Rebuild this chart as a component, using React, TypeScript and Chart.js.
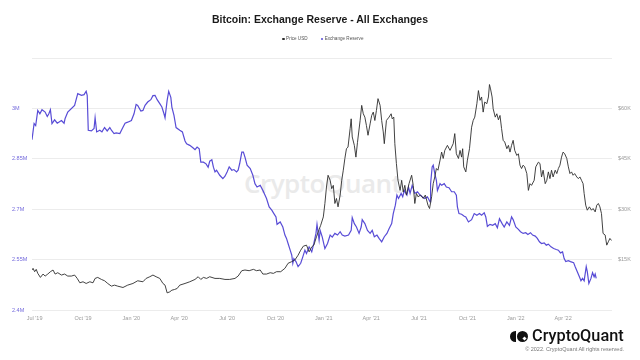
import React, { useEffect, useRef } from "react";
import { Chart, registerables } from "chart.js";

Chart.register(...registerables);

// x values are days counted from 1 Jul 2019
const tickDays = [0, 92, 184, 275, 366, 458, 550, 640, 731, 823, 915, 1005];
const tickLabels = ["Jul '19", "Oct '19", "Jan '20", "Apr '20", "Jul '20", "Oct '20", "Jan '21", "Apr '21", "Jul '21", "Oct '21", "Jan '22", "Apr '22"];

const reserveDays = [-5,-1,2,6,10,14,20,24,27,30,33,38,43,51,56,58,63,76,82,89,94,98,100,102,108,113,115,118,124,128,133,138,143,146,151,155,162,168,172,177,184,189,193,196,202,206,210,215,221,225,229,233,238,242,246,248,252,255,259,261,265,269,276,281,286,289,295,301,305,309,313,316,321,326,330,333,337,340,343,346,352,358,362,366,370,375,379,384,387,390,394,397,400,404,410,415,419,423,429,434,438,441,446,451,455,459,461,467,472,476,479,482,486,489,491,493,497,501,506,510,514,517,522,527,531,535,537,541,543,547,552,557,562,566,571,576,581,585,590,597,602,604,608,612,617,621,623,628,633,638,642,646,651,655,660,665,670,674,679,682,686,689,692,697,700,703,708,711,714,718,723,728,733,737,742,747,752,753,756,758,761,764,766,771,774,779,783,788,793,798,802,804,807,812,817,820,825,831,836,841,846,850,855,858,861,866,871,876,880,884,889,893,898,903,907,910,915,920,924,929,934,938,943,947,952,956,960,964,969,973,977,982,987,992,996,1000,1004,1007,1010,1015,1019,1025,1028,1032,1036,1039,1042,1045,1049,1051,1054,1058,1061,1064,1066,1068];
// Exchange reserve, millions of BTC
const reserveM = [2.907,2.955,2.949,2.994,2.984,2.996,2.989,2.976,2.984,2.996,2.955,2.966,2.956,2.964,2.956,2.970,2.989,3.009,3.044,3.039,3.041,3.051,3.039,2.935,2.933,2.940,2.972,2.930,2.935,2.930,2.943,2.933,2.943,2.935,2.925,2.927,2.925,2.944,2.956,2.959,2.964,2.984,3.012,3.009,2.992,2.994,3.009,3.019,3.026,3.038,3.039,3.026,3.014,3.004,2.984,2.972,3.024,3.051,3.033,3.004,2.979,2.943,2.935,2.930,2.903,2.895,2.890,2.883,2.877,2.885,2.880,2.840,2.840,2.835,2.825,2.843,2.847,2.825,2.811,2.816,2.801,2.791,2.798,2.811,2.826,2.816,2.818,2.811,2.816,2.836,2.870,2.870,2.855,2.831,2.821,2.801,2.776,2.766,2.771,2.756,2.742,2.732,2.707,2.697,2.687,2.677,2.655,2.662,2.647,2.623,2.613,2.598,2.578,2.563,2.539,2.553,2.544,2.529,2.539,2.558,2.578,2.568,2.588,2.573,2.598,2.628,2.655,2.608,2.637,2.617,2.583,2.598,2.623,2.617,2.628,2.623,2.633,2.623,2.620,2.623,2.637,2.675,2.657,2.647,2.628,2.647,2.669,2.657,2.637,2.628,2.637,2.618,2.623,2.613,2.603,2.618,2.628,2.642,2.657,2.687,2.712,2.742,2.732,2.747,2.737,2.756,2.742,2.766,2.747,2.771,2.747,2.752,2.742,2.737,2.732,2.737,2.722,2.776,2.826,2.831,2.806,2.786,2.756,2.776,2.771,2.776,2.766,2.764,2.752,2.752,2.742,2.707,2.687,2.685,2.679,2.677,2.662,2.669,2.687,2.682,2.687,2.682,2.689,2.677,2.649,2.655,2.652,2.657,2.645,2.672,2.657,2.647,2.662,2.652,2.677,2.669,2.647,2.640,2.633,2.628,2.630,2.625,2.630,2.623,2.620,2.613,2.603,2.598,2.600,2.593,2.596,2.588,2.583,2.580,2.578,2.570,2.573,2.553,2.544,2.547,2.544,2.541,2.529,2.514,2.499,2.487,2.494,2.487,2.529,2.514,2.479,2.494,2.511,2.499,2.507,2.494];

const priceDays = [-5,-3,0,3,6,11,16,20,25,30,35,39,44,51,57,63,70,76,81,86,92,98,105,111,115,120,127,133,139,146,152,158,168,177,187,196,206,212,219,225,231,238,244,248,252,257,261,266,271,276,286,295,305,311,316,321,327,333,343,352,362,371,381,387,394,400,408,416,422,429,434,441,448,454,460,468,476,482,489,495,501,506,511,517,522,527,531,536,541,544,549,552,555,558,562,565,568,571,574,577,581,584,587,590,593,596,600,602,604,608,611,614,619,622,625,628,631,634,638,641,644,647,650,653,657,660,663,665,669,674,678,680,683,685,688,691,695,698,701,704,707,712,717,720,723,726,729,734,739,743,748,751,755,758,761,764,767,771,774,777,780,785,790,793,796,799,802,806,809,812,814,816,820,823,827,831,834,837,841,844,847,850,853,856,860,863,865,867,870,872,876,879,882,885,888,891,894,898,901,904,907,910,913,917,920,923,926,929,932,936,939,942,945,950,953,958,961,964,967,971,974,977,980,983,986,990,993,996,999,1002,1005,1008,1012,1015,1018,1021,1024,1027,1031,1034,1037,1040,1043,1045,1048,1051,1055,1059,1062,1066,1069,1072,1075,1078,1081,1085,1088,1091,1094,1097];
// BTC price, thousands of USD
const priceUsdK = [11.9,12.4,11.4,12.1,10.9,9.7,10.7,10.1,10.7,11.4,11.9,10.7,11.1,10.4,10.7,10.1,10.1,10.4,9.4,8.1,8.4,7.9,8.4,8.1,9.4,9.7,9.1,8.7,7.9,7.1,7.4,7.1,6.7,7.4,7.9,8.7,8.4,9.4,9.9,10.4,9.9,9.4,7.9,7.4,5.1,5.4,5.9,6.1,6.4,7.4,7.9,8.4,9.1,9.9,9.1,9.7,9.4,9.9,9.4,9.4,9.1,9.1,9.4,10.1,11.7,11.9,11.7,12.1,11.7,11.9,10.7,10.7,11.1,10.9,11.4,11.4,12.4,13.9,14.4,14.9,16.3,17.8,19.0,19.3,17.3,18.8,19.3,21.8,24.0,25.2,27.7,31.7,36.6,40.1,38.6,36.1,37.1,31.7,33.2,30.7,34.2,38.6,41.6,45.1,48.0,48.5,54.0,56.9,51.5,49.0,45.5,49.9,56.4,60.9,58.4,57.4,54.9,52.0,55.4,57.9,58.9,56.4,59.4,62.9,60.9,56.4,53.0,49.5,56.4,57.4,58.4,56.9,57.4,49.5,43.6,38.6,35.6,38.6,35.1,37.1,34.2,37.6,40.1,37.1,31.7,34.7,33.7,34.2,33.2,34.2,31.2,30.2,33.7,37.6,39.6,42.1,41.6,44.6,47.0,45.1,47.5,49.0,47.5,48.5,49.5,52.5,46.5,45.1,47.5,45.5,48.0,42.6,41.1,44.6,48.0,54.4,56.4,57.4,61.4,65.3,62.4,63.4,58.9,61.9,61.4,63.4,67.1,65.8,63.4,59.9,57.4,58.4,56.6,57.9,54.0,50.5,50.0,48.0,49.0,47.0,49.0,50.5,47.5,46.0,46.5,43.1,42.1,43.1,42.6,40.6,35.6,37.6,37.1,38.6,42.6,44.0,43.6,39.6,41.6,37.6,38.6,41.1,39.1,41.6,39.6,41.6,40.6,42.1,43.1,45.5,47.0,46.5,45.1,42.6,40.6,41.1,40.1,40.6,39.6,39.1,39.6,38.6,37.6,34.7,31.2,29.7,30.7,29.7,30.2,29.2,31.2,31.7,30.7,28.7,22.8,22.3,19.3,20.3,21.3,20.7];

const FONT = "'Liberation Sans', Arial, Helvetica, sans-serif";
const PURPLE = "#584cd6";
const PRICE_COLOR = "#2e2e2e";

export default function App() {
  const ref = useRef<HTMLCanvasElement>(null);

  useEffect(() => {
    const tickFont = { size: 5.5, family: FONT };
    const chart = new Chart(ref.current as HTMLCanvasElement, {
      type: "line",
      data: {
        datasets: [
          {
            label: "Price USD",
            data: priceDays.map((d, i) => ({ x: d, y: priceUsdK[i] })),
            yAxisID: "yPrice",
            borderColor: PRICE_COLOR,
            backgroundColor: PRICE_COLOR,
            borderWidth: 0.9,
            pointRadius: 0,
            tension: 0,
          },
          {
            label: "Exchange Reserve",
            data: reserveDays.map((d, i) => ({ x: d, y: reserveM[i] })),
            yAxisID: "yRes",
            borderColor: PURPLE,
            backgroundColor: PURPLE,
            borderWidth: 1.2,
            pointRadius: 0,
            tension: 0,
          },
        ],
      },
      options: {
        responsive: false,
        animation: false,
        layout: { padding: { top: 58, left: 12, right: 0, bottom: 0 } },
        plugins: {
          legend: { display: false },
          title: { display: false },
          tooltip: { enabled: false },
        },
        scales: {
          x: {
            type: "linear",
            min: -5,
            max: 1098,
            grid: { display: false, drawTicks: false },
            border: { display: false },
            afterBuildTicks: (axis: any) => {
              axis.ticks = tickDays.map((v) => ({ value: v }));
            },
            afterFit: (s: any) => {
              s.height = 50;
            },
            ticks: {
              autoSkip: false,
              maxRotation: 0,
              padding: 5,
              color: "#9a9a9a",
              font: tickFont,
              callback: (v: any) => {
                const i = tickDays.indexOf(Number(v));
                return i >= 0 ? tickLabels[i] : "";
              },
            },
          },
          yRes: {
            position: "left",
            min: 2.4,
            max: 3.15,
            afterFit: (s: any) => {
              s.width = 20;
            },
            grid: { color: "#ececec", drawTicks: false, lineWidth: 1 },
            border: { display: false },
            ticks: {
              stepSize: 0.15,
              crossAlign: "far",
              padding: 0,
              color: "#7369dc",
              font: tickFont,
              callback: (v: any) => {
                const n = Number(v);
                if (n > 3.1) return "";
                return `${parseFloat(n.toFixed(2))}M`;
              },
            },
          },
          yPrice: {
            position: "right",
            min: 0,
            max: 75,
            afterFit: (s: any) => {
              s.width = 28;
            },
            grid: { display: false, drawTicks: false },
            border: { display: false },
            ticks: {
              stepSize: 15,
              padding: 6,
              color: "#9a9a9a",
              font: tickFont,
              callback: (v: any) => {
                const n = Number(v);
                if (n <= 0 || n >= 75) return "";
                return `$${n}K`;
              },
            },
          },
        },
      },
    } as any);
    return () => chart.destroy();
  }, []);

  const dot = (c: string): React.CSSProperties => ({
    display: "inline-block",
    width: 2.6,
    height: 2.6,
    borderRadius: "50%",
    background: c,
    marginRight: 1.5,
    verticalAlign: "middle",
  });

  return (
    <div style={{ position: "fixed", left: 0, top: 0, width: 640, height: 360, background: "#fff", overflow: "hidden", fontFamily: FONT }}>
      <div
        style={{
          position: "absolute",
          left: 244,
          top: 168,
          fontSize: 26,
          fontWeight: 600,
          color: "#eaeaea",
          lineHeight: "30px",
          whiteSpace: "nowrap",
          fontFamily: "'Open Sans', 'Liberation Sans', sans-serif",
          letterSpacing: -0.5,
        }}
      >
        CryptoQuant
      </div>
      <canvas ref={ref} width={640} height={360} style={{ position: "absolute", left: 0, top: 0 }} />
      <div
        style={{
          position: "absolute",
          left: 0,
          top: 13,
          width: 640,
          textAlign: "center",
          fontSize: 10.5,
          fontWeight: 700,
          lineHeight: "12px",
          color: "#1a1a1a",
          whiteSpace: "nowrap",
        }}
      >
        Bitcoin: Exchange Reserve - All Exchanges
      </div>
      <div
        style={{
          position: "absolute",
          left: 282,
          top: 36,
          fontSize: 4.6,
          lineHeight: "6px",
          color: "#555",
          whiteSpace: "nowrap",
        }}
      >
        <span style={dot(PRICE_COLOR)} />
        <span style={{ verticalAlign: "middle" }}>Price USD</span>
        <span style={{ display: "inline-block", width: 13 }} />
        <span style={dot(PURPLE)} />
        <span style={{ verticalAlign: "middle" }}>Exchange Reserve</span>
      </div>
      <div style={{ position: "absolute", left: 510, top: 330, width: 20, height: 12 }}>
        <div style={{ position: "absolute", left: 0, top: 1, width: 5.5, height: 11, borderRadius: "5.5px 0 0 5.5px", background: "#111" }} />
        <div style={{ position: "absolute", left: 7, top: 1, width: 11, height: 11, borderRadius: "50%", background: "#111" }} />
        <div style={{ position: "absolute", left: 13, top: 7, width: 3, height: 3, background: "#fff", transform: "rotate(45deg)" }} />
      </div>
      <div
        style={{
          position: "absolute",
          left: 532,
          top: 326,
          fontSize: 16.3,
          fontWeight: 500,
          lineHeight: "20px",
          color: "#111",
          whiteSpace: "nowrap",
          fontFamily: "Roboto, 'Liberation Sans', sans-serif",
        }}
      >
        CryptoQuant
      </div>
      <div
        style={{
          position: "absolute",
          right: 16,
          top: 346,
          fontSize: 5.5,
          lineHeight: "7px",
          color: "#777",
          whiteSpace: "nowrap",
        }}
      >
        © 2022. CryptoQuant All rights reserved.
      </div>
    </div>
  );
}
